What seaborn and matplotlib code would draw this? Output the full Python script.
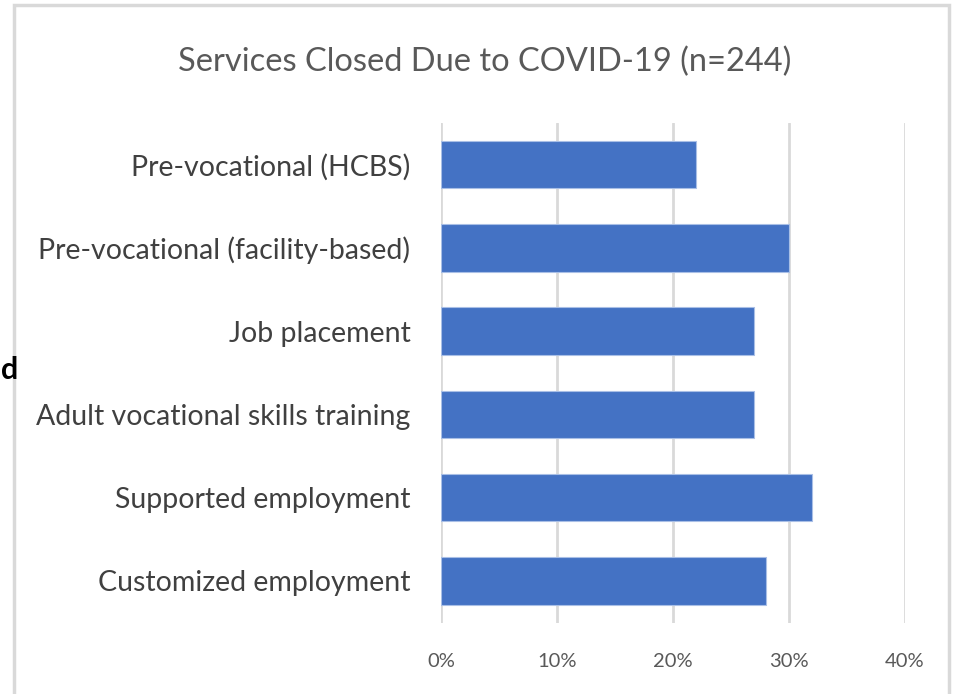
import matplotlib
matplotlib.use("Agg")
import matplotlib.pyplot as plt
import seaborn as sns
import pandas as pd
from matplotlib.patches import Rectangle

categorias = [
    "Pre-vocational (HCBS)",
    "Pre-vocational (facility-based)",
    "Job placement",
    "Adult vocational skills training",
    "Supported employment",
    "Customized employment",
]
porcentajes = [22, 30, 27, 27, 32, 28]
ticks_x = [0, 10, 20, 30, 40]
etiquetas_x = ["0%", "10%", "20%", "30%", "40%"]

sns.set_style("white")
plt.rcParams["font.family"] = ["Lato", "DejaVu Sans"]

df = pd.DataFrame({"categoria": categorias, "porcentaje": porcentajes})

fig = plt.figure(figsize=(9.59, 6.94), dpi=100)
W, H = 959, 694

# marco gris del grafico
fig.patches.append(Rectangle((14 / W, -0.05), (949 - 14) / W, 1.05 - 5 / H,
                             transform=fig.transFigure, fill=False,
                             edgecolor="#d9d9d9", linewidth=2.5))

ax = fig.add_axes([441 / W, 1 - 622.5 / H, (905 - 441) / W, (622.5 - 123) / H])
sns.barplot(data=df, x="porcentaje", y="categoria", orient="h",
            color="#4472C4", saturation=1, width=0.57, ax=ax,
            edgecolor="#a9bfe6", linewidth=0.8)

ax.set_xlim(0, 40)
ax.set_ylim(5.5, -0.5)
ax.set_xticks(ticks_x)
ax.set_xticklabels(etiquetas_x, fontsize=14.5, color="#595959")
ax.tick_params(axis="y", labelsize=20.5, labelcolor="#404040", length=0, pad=22)
ax.tick_params(axis="x", length=0, pad=22)
ax.xaxis.grid(True, color="#d9d9d9", linewidth=2)
ax.set_axisbelow(True)
ax.set_xlabel("")
ax.set_ylabel("")
for s in ax.spines.values():
    s.set_visible(False)

fig.text(485 / W, 1 - 62 / H, "Services Closed Due to COVID-19 (n=244)",
         ha="center", va="center", fontsize=23.5, color="#595959")

# fragmento de texto en el borde izquierdo
fig.text(0.5 / W, 1 - 370 / H, "d", ha="left", va="center",
         fontsize=22, color="black", fontweight="bold")

fig.savefig("out.png", dpi=100)
